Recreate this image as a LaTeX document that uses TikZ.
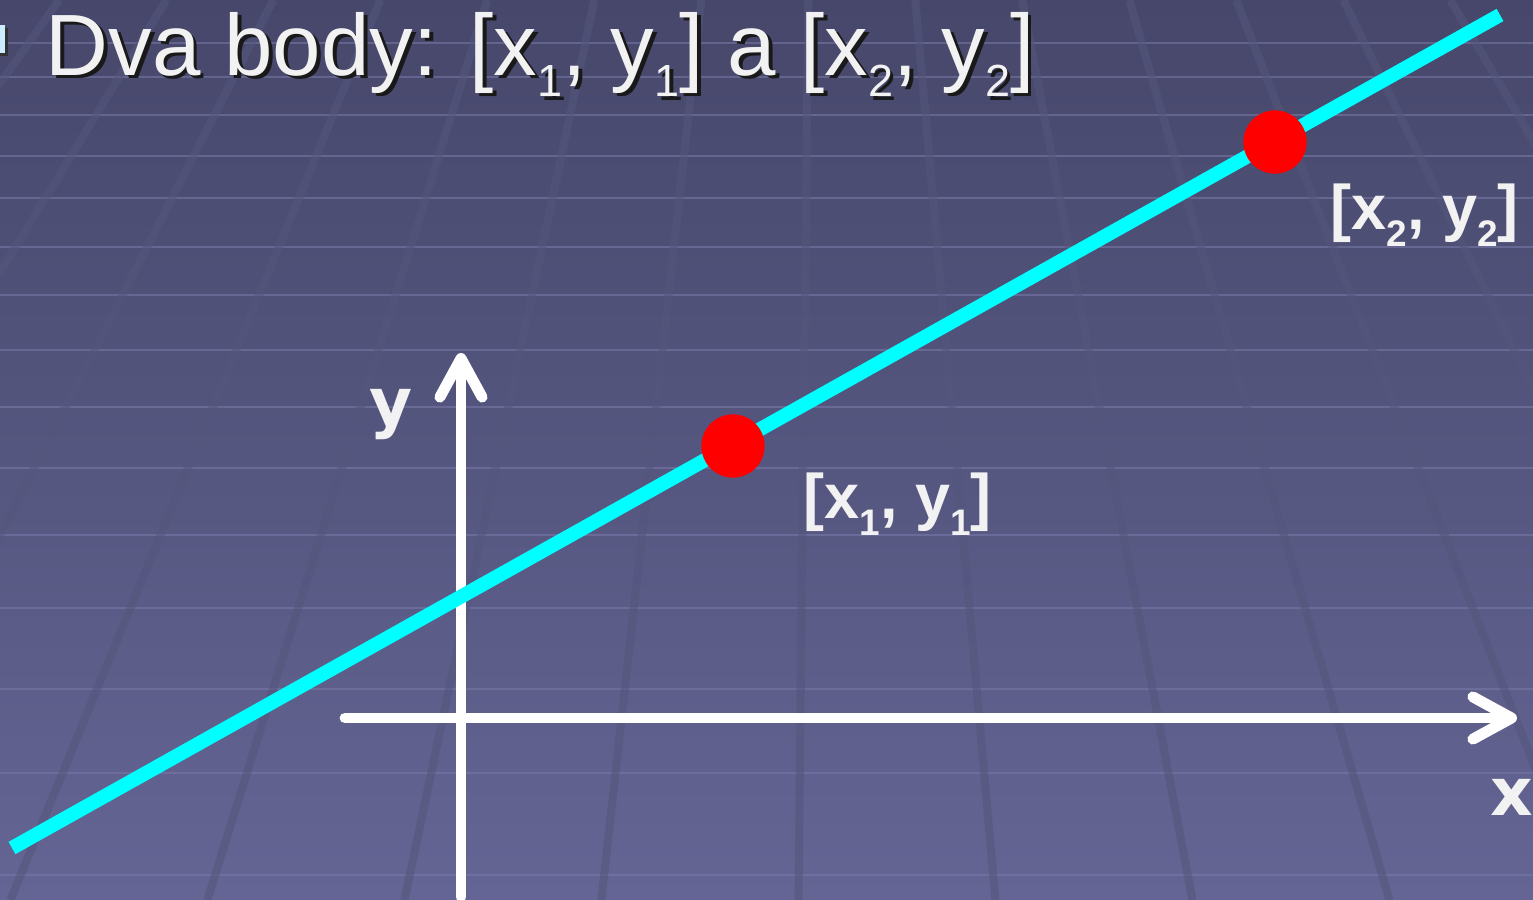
\documentclass[tikz,border=0pt]{standalone}
\usepackage{fontspec}
\setmainfont{Liberation Sans}[BoldFont={Liberation Sans Bold}]
\newfontfamily\axisfont{DejaVu Sans}[BoldFont={DejaVu Sans Bold}]
\usetikzlibrary{arrows.meta}

\definecolor{bgtop}{RGB}{70,71,106}
\definecolor{bgbot}{RGB}{100,101,148}
\definecolor{gridh}{RGB}{118,120,166}
\definecolor{grids}{RGB}{84,86,124}
\definecolor{txtwhite}{RGB}{242,242,242}
\definecolor{bulletblue}{RGB}{204,236,255}
\definecolor{linecyan}{RGB}{0,255,255}
\definecolor{dotred}{RGB}{255,0,0}

% text with a small drop shadow
\newcommand{\shd}[1]{\rlap{\kern1.1pt\raisebox{-1.1pt}{\color{black!90}#1}}#1}
\newcommand{\tsub}[1]{\raisebox{-6.2pt}{\fontsize{12.8}{14}\selectfont #1}}
\newcommand{\lsub}[1]{\raisebox{-4.9pt}{\fontsize{10.5}{12}\selectfont\bfseries #1}}

\begin{document}
\begin{tikzpicture}[x=0.01cm,y=-0.01cm,
    slant/.style={grids,line width=2.3pt,opacity=0.55},
    hline/.style={gridh,line width=0.8pt,opacity=0.6},
    axis/.style={white,line width=3.1pt,line cap=round,
      -{Straight Barb[length=11pt,width=12pt,round]}},
    dot/.style={circle,fill=dotred,inner sep=0pt,minimum size=18pt},
    lbl/.style={txtwhite,font=\fontsize{17.9}{20}\selectfont\bfseries,inner sep=0pt},
    axlbl/.style={txtwhite,font=\axisfont\fontsize{18.8}{22}\selectfont\bfseries,inner sep=0pt}]

    \useasboundingbox (0,0) rectangle (1533,900);
    \shade[top color=bgtop,bottom color=bgbot] (0,0) rectangle (1533,900);

    % background grid
    \foreach \yy in {43,77,115,156,198,247,295,350,407,468,535,608,689,773,875}
      \draw[hline] (0,\yy) -- (1533,\yy);
    \begin{scope}
      \clip (0,0) rectangle (1533,900);
      \foreach \k in {-2,...,11}{
        \pgfmathsetmacro{\xm}{120+137*\k}
        \pgfmathsetmacro{\xa}{820+(\xm-820)*0.781}
        \pgfmathsetmacro{\xb}{820+(\xm-820)*1.438}
        \draw[slant] (\xa,0) -- (\xb,900);
      }
      % bullet
      \fill[black!80] (-20,28) rectangle (8,56);
      \fill[bulletblue] (-23,25) rectangle (5,53);
    \end{scope}

    % title
    \node[txtwhite,anchor=base west,inner sep=0pt,font=\fontsize{24.75}{28}\selectfont]
      (title) at (45,75)
      {\shd{Dva body: [x\tsub{1}, y\tsub{1}] a [x\tsub{2}, y\tsub{2}]}};

    % axes
    \coordinate (xs) at (345,718);
    \coordinate (xe) at (1517,718);
    \coordinate (ys) at (461,897);
    \coordinate (ye) at (461,353);
    \draw[axis] (xs) -- (xe);
    \draw[axis] (ys) -- (ye);
    \node[axlbl,anchor=base west] (ylbl) at (369,425) {y};
    \node[axlbl,anchor=base west] (xlbl) at (1490,815) {x};

    % the line and its two points
    \coordinate (ls) at (12,848);
    \coordinate (le) at (1500,15);
    \draw[linecyan,line width=4pt] (ls) -- (le);
    \node[dot] (p1) at (733,446) {};
    \node[dot] (p2) at (1275,142) {};
    \node[lbl,anchor=base west] (p1lbl) at (803,518) {[x\lsub{1}, y\lsub{1}]};
    \node[lbl,anchor=base west] (p2lbl) at (1330,229) {[x\lsub{2}, y\lsub{2}]};

\end{tikzpicture}
\end{document}
